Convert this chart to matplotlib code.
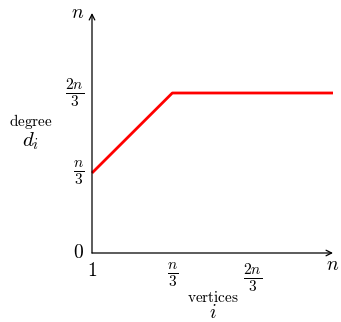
import matplotlib
matplotlib.use("Agg")
import matplotlib.pyplot as plt

plt.rcParams['mathtext.fontset'] = 'cm'

# positions in units of n/3
x_pos = [0, 1, 3]
degree = [1, 2, 2]

x_ticks = [0, 1, 2]
x_labels = [r'$1$', r'$\frac{n}{3}$', r'$\frac{2n}{3}$']
y_ticks = [0, 1, 2, 3]
y_labels = [r'$0$', r'$\frac{n}{3}$', r'$\frac{2n}{3}$', r'$n$']

fig = plt.figure(figsize=(3.41, 3.22), dpi=100)
ax = fig.add_axes([92 / 341, 69 / 322, 241 / 341, 240 / 322])
ax.set_xlim(0, 3)
ax.set_ylim(0, 3)
ax.axis('off')

# axes with arrow heads
arrow = dict(arrowstyle='->', lw=0.9, color='black', shrinkA=0, shrinkB=0)
ax.annotate('', xy=(3, 0), xytext=(0, 0), arrowprops=arrow, annotation_clip=False)
ax.annotate('', xy=(0, 3), xytext=(0, 0), arrowprops=arrow, annotation_clip=False)

ax.plot(x_pos, degree, color='red', lw=2, solid_capstyle='butt', clip_on=False)

def fs(lab):
    return 16 if 'frac' in lab else 14

for t, lab in zip(x_ticks, x_labels):
    ax.text(t, -0.1, lab, ha='center', va='top', fontsize=fs(lab))
ax.text(3, -0.03, r'$n$', ha='center', va='top', fontsize=14)

for t, lab in zip(y_ticks, y_labels):
    ax.text(-0.1, t, lab, ha='right', va='center', fontsize=fs(lab))

# axis titles
fig.text(31 / 341, 1 - 122 / 322, r'$\mathrm{degree}$', ha='center', va='center', fontsize=11)
fig.text(31 / 341, 1 - 141 / 322, r'$d_i$', ha='center', va='center', fontsize=15)
fig.text(213 / 341, 1 - 297 / 322, r'$\mathrm{vertices}$', ha='center', va='center', fontsize=11)
fig.text(213 / 341, 1 - 313 / 322, r'$i$', ha='center', va='center', fontsize=14)

fig.savefig('out.png', dpi=100)
